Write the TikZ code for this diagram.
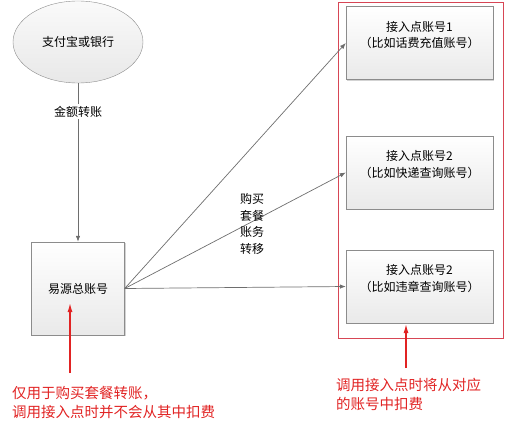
\documentclass[tikz,border=0pt]{standalone}
\usepackage{fontspec}
\setmainfont{Noto Sans CJK SC}[RawFeature=+halt]
\usepackage{tikz}
\usetikzlibrary{arrows.meta, positioning, shapes.geometric, shadows}
\definecolor{linegray}{RGB}{110,110,110}
\definecolor{boxgray}{RGB}{140,140,140}
\definecolor{notered}{RGB}{225,35,35}
\definecolor{framered}{RGB}{215,70,85}
\newcommand{\boxfont}{\fontsize{12}{16.5}\selectfont}
\newcommand{\notefont}{\fontsize{14.5}{19}\selectfont}
\tikzset{
  bank/.style={ellipse, draw=boxgray, thin, top color=gray!4, bottom color=gray!18,
    minimum width=130pt, minimum height=82pt, inner sep=0pt},
  acct/.style={draw=boxgray, thin, top color=white, bottom color=gray!17,
    minimum width=147pt, minimum height=73pt,
    drop shadow={shadow xshift=1pt, shadow yshift=-1pt, opacity=0.35}},
  acctxt/.style={align=center, inner sep=0pt},
  link/.style={draw=linegray, line width=0.7pt, -{Latex[length=6pt,width=4.5pt]}},
  note/.style={draw=notered, line width=1.3pt, -{Latex[length=9pt,width=5pt]}},
  notetxt/.style={text=notered, font=\notefont, align=left, inner sep=0pt}
}

\begin{document}
\begin{tikzpicture}[x=1pt, y=-1pt, font=\boxfont]
\useasboundingbox (0,0) rectangle (524,420);
% sources
\node[bank] (bank) at (78,42) {支付宝或银行};
\node[acct, minimum width=93pt, minimum height=93pt] (main) at (78,288.5) {易源总账号};
% access point accounts
\node[draw=framered, line width=0.8pt, minimum width=165pt, minimum height=336pt] (grp) at (420.5,170) {};
\node[acct] (acc1) at (419.5,43) {};
\node[acct] (acc2) at (419.5,172.5) {};
\node[acct] (acc3) at (419.5,286.5) {};
\node[acctxt] (acc1txt) at ([yshift=8pt]acc1.center) {接入点账号1\\（比如话费充值账号）};
\node[acctxt] (acc2txt) at ([yshift=8pt]acc2.center) {接入点账号2\\（比如快递查询账号）};
\node[acctxt] (acc3txt) at ([yshift=8pt]acc3.center) {接入点账号2\\（比如违章查询账号）};
% transfers
\draw[link] (bank) -- node[pos=0.18, fill=white, inner sep=2pt] {金额转账} (main);
\draw[link] (main.east) -- (acc1.west);
\draw[link] (main.east) -- (acc2.west);
\draw[link] (main.east) -- (acc3.west);
\node[align=center, inner sep=0pt] (buy) at (252,224) {购买\\套餐\\账务\\转移};
% notes
\coordinate (tip1) at (70,303);
\coordinate (tail1) at (70,373);
\draw[note] (tail1) -- (tip1);
\node[notetxt, anchor=west] (note1) at (12,402.5) {仅用于购买套餐转账，\\调用接入点时并不会从其中扣费};
\coordinate (tip2) at (406,324);
\coordinate (tail2) at (406,368);
\draw[note] (tail2) -- (tip2);
\node[notetxt, anchor=west] (note2) at (336,394) {调用接入点时将从对应\\的账号中扣费};
\end{tikzpicture}
\end{document}
